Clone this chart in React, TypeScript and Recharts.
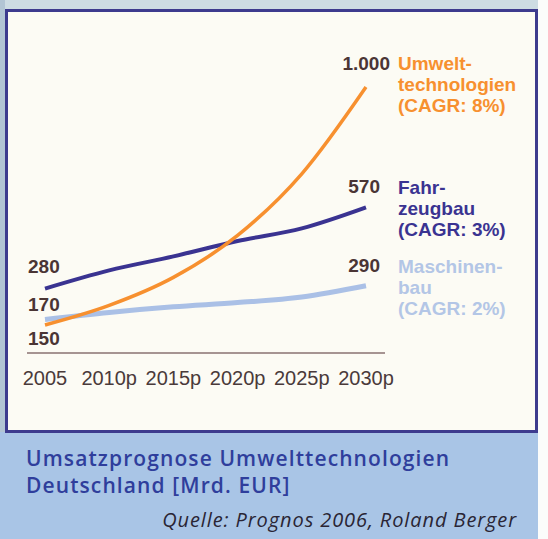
import React from 'react';
import { LineChart, Line, XAxis, YAxis } from 'recharts';

// Umsatzprognose in Mrd. EUR
const years = ['2005', '2010p', '2015p', '2020p', '2025p', '2030p'];
const umwelt = [150, 220, 320, 470, 690, 1000];
const fahrzeug = [280, 345, 395, 450, 495, 570];
const maschinen = [170, 195, 215, 230, 250, 290];

const umweltName = ['Umwelt-', 'technologien', '(CAGR: 8%)'];
const fahrzeugName = ['Fahr-', 'zeugbau', '(CAGR: 3%)'];
const maschinenName = ['Maschinen-', 'bau', '(CAGR: 2%)'];

const titleLines = ['Umsatzprognose Umwelttechnologien', 'Deutschland [Mrd. EUR]'];
const source = 'Quelle: Prognos 2006, Roland Berger';

const data = years.map((year, i) => ({
  year,
  umwelt: umwelt[i],
  fahrzeug: fahrzeug[i],
  maschinen: maschinen[i],
}));

const valueColor = '#4a3535';
const labelFont = '"Liberation Sans", Arial, sans-serif';
const captionFont = '"Open Sans", "Noto Sans", sans-serif';

const fmt = (v: number) => String(v).replace(/\B(?=(\d{3})+(?!\d))/g, '.');

type LabelOpts = {
  color: string;
  names: string[];
  startDy: number;
  endDx: number;
  endDy: number;
  nameDy: number;
};

const makeLabel = (opts: LabelOpts) => (props: any) => {
  const { x, y, index, value } = props;
  if (index === 0) {
    return (
      <text x={x - 17} y={y + opts.startDy} fill={valueColor} fontSize={19} fontWeight="bold" fontFamily={labelFont}>
        {fmt(value)}
      </text>
    );
  }
  if (index === years.length - 1) {
    return (
      <g>
        <text x={x + opts.endDx} y={y + opts.endDy} textAnchor="end" fill={valueColor} fontSize={19} fontWeight="bold" fontFamily={labelFont}>
          {fmt(value)}
        </text>
        <text x={x + 32} y={y + opts.nameDy} fill={opts.color} fontSize={19} fontWeight="bold" fontFamily={labelFont}>
          {opts.names.map((n, i) => (
            <tspan key={n} x={x + 32} dy={i === 0 ? 0 : 21}>
              {n}
            </tspan>
          ))}
        </text>
      </g>
    );
  }
  return null;
};

const App = () => {
  return (
    <div style={{ position: 'absolute', left: 0, top: 0, width: 548, height: 539, background: '#fbfcfb', overflow: 'hidden' }}>
      <div style={{ position: 'absolute', left: 0, top: 0, width: 538, height: 9, background: '#cddce3' }} />
      <div style={{ position: 'absolute', left: 0, top: 0, width: 5, height: 539, background: '#b2c5d4' }} />
      <div style={{ position: 'absolute', left: 0, top: 432, width: 538, height: 107, background: '#a9c5e6' }} />
      <div
        style={{
          position: 'absolute', left: 5, top: 9, width: 533, height: 424,
          border: '3px solid #3d3b8e', background: '#fcfbf4', boxSizing: 'border-box',
        }}
      />
      <div style={{ position: 'absolute', left: 0, top: 0 }}>
        <LineChart width={548} height={432} data={data} margin={{ top: 31, right: 163, bottom: 49, left: 27 }}>
          <XAxis
            dataKey="year"
            padding={{ left: 18, right: 19 }}
            axisLine={{ stroke: '#8a7272', strokeWidth: 1.5 }}
            tickLine={false}
            tickMargin={12}
            tick={{ fill: '#4a3a3a', fontSize: 20, fontFamily: labelFont }}
            interval={0}
          />
          <YAxis hide width={0} domain={[50, 1200]} />
          <Line
            dataKey="maschinen"
            stroke="#aac0e6"
            strokeWidth={5}
            dot={false}
            type="monotone"
            isAnimationActive={false}
            label={makeLabel({ color: '#b3c6e6', names: maschinenName, startDy: -8, endDx: 14, endDy: -14, nameDy: -13 })}
          />
          <Line
            dataKey="fahrzeug"
            stroke="#3a3391"
            strokeWidth={4}
            dot={false}
            type="monotone"
            isAnimationActive={false}
            label={makeLabel({ color: '#3a3391', names: fahrzeugName, startDy: -16, endDx: 14, endDy: -14, nameDy: -13 })}
          />
          <Line
            dataKey="umwelt"
            stroke="#f7902f"
            strokeWidth={3.5}
            dot={false}
            type="monotone"
            isAnimationActive={false}
            label={makeLabel({ color: '#f7902f', names: umweltName, startDy: 20, endDx: 24, endDy: -17, nameDy: -17 })}
          />
        </LineChart>
      </div>
      {titleLines.map((line, i) => (
        <div
          key={line}
          style={{
            position: 'absolute', left: 26, top: 448 + i * 27, color: '#2f3e9c', whiteSpace: 'nowrap',
            fontFamily: captionFont, fontWeight: 600, fontSize: 21, lineHeight: '21px', letterSpacing: 1.1,
          }}
        >
          {line}
        </div>
      ))}
      <div
        style={{
          position: 'absolute', right: 31, top: 510, color: '#2a2535', fontStyle: 'italic', whiteSpace: 'nowrap',
          fontFamily: captionFont, fontWeight: 500, fontSize: 20, lineHeight: '20px', letterSpacing: 0.9,
        }}
      >
        {source}
      </div>
    </div>
  );
};

export default App;
